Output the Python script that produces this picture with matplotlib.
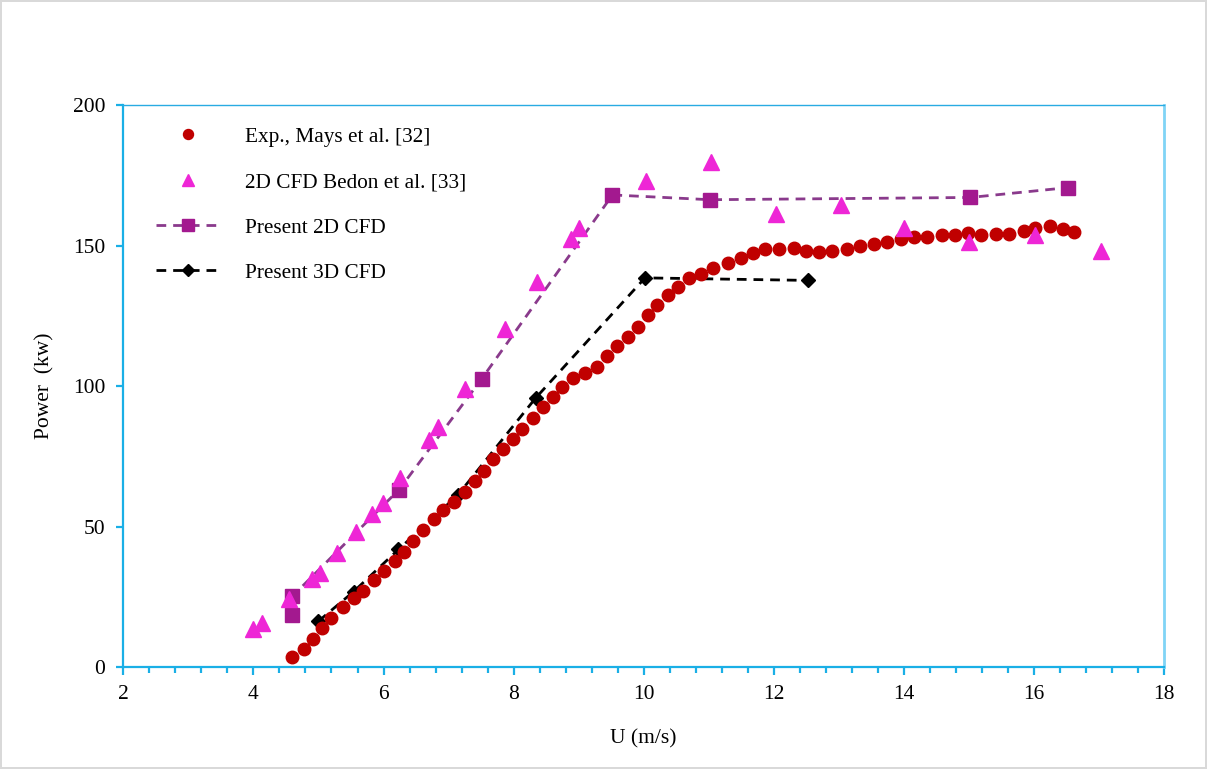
import matplotlib.pyplot as plt
from matplotlib.ticker import MultipleLocator, AutoMinorLocator

plt.rcParams['font.family'] = ['Liberation Serif', 'DejaVu Serif']

# Exp., Mays et al. [32]
exp_u = [4.60, 4.78, 4.91, 5.05, 5.20, 5.37, 5.54, 5.68, 5.86, 6.01, 6.17, 6.31, 6.45,
         6.60, 6.77, 6.91, 7.09, 7.26, 7.41, 7.55, 7.69, 7.84, 7.99, 8.13, 8.30, 8.45,
         8.60, 8.74, 8.92, 9.10, 9.28, 9.44, 9.59, 9.76, 9.91, 10.06, 10.21, 10.37,
         10.53, 10.70, 10.88, 11.06, 11.29, 11.49, 11.68, 11.86, 12.08, 12.31, 12.50,
         12.70, 12.90, 13.12, 13.32, 13.54, 13.74, 13.95, 14.15, 14.36, 14.59, 14.78,
         14.98, 15.19, 15.41, 15.61, 15.84, 16.02, 16.24, 16.44, 16.62]
exp_p = [3.8, 6.6, 10.2, 14.0, 17.5, 21.4, 24.6, 27.2, 30.9, 34.2, 37.9, 41.0, 44.9,
         48.7, 52.8, 56.0, 58.9, 62.5, 66.2, 69.9, 73.9, 77.7, 81.2, 84.9, 88.7, 92.5,
         96.2, 99.7, 102.8, 104.7, 106.8, 110.6, 114.1, 117.6, 121.2, 125.4, 128.8, 132.3,
         135.2, 138.3, 140.0, 142.0, 143.8, 145.5, 147.3, 148.7, 148.7, 149.1, 148.2,
         147.8, 148.2, 148.7, 149.7, 150.6, 151.4, 152.3, 153.1, 153.1, 153.8, 153.8,
         154.5, 153.8, 154.2, 154.2, 155.2, 156.3, 157.0, 156.0, 154.9]

# 2D CFD Bedon et al. [33]
bedon_u = [4.0, 4.13, 4.55, 4.9, 5.03, 5.29, 5.57, 5.83, 5.99, 6.25, 6.7, 6.84, 7.25,
           7.87, 8.36, 8.88, 9.01, 10.03, 11.03, 12.03, 13.03, 14.0, 15.0, 16.02, 17.03]
bedon_p = [13.5, 15.9, 24.4, 31.3, 33.4, 40.7, 48.1, 54.4, 58.5, 67.4, 81.0, 85.5, 98.8,
           120.4, 136.9, 152.3, 156.2, 172.8, 179.6, 161.3, 164.5, 156.2, 151.4, 153.8, 148.2]

# Present 2D CFD
p2d_u = [4.6, 4.6, 6.24, 7.51, 9.52, 11.02, 15.02, 16.52]
p2d_p = [18.6, 25.3, 63.2, 102.6, 168.0, 166.3, 167.1, 170.6]

# Present 3D CFD
p3d_u = [5.0, 5.54, 6.23, 7.14, 8.34, 10.02, 12.53]
p3d_p = [16.4, 26.9, 41.9, 61.2, 95.8, 138.5, 137.6]

fig = plt.figure(figsize=(12.07, 7.69), dpi=100, edgecolor='#d9d9d9', linewidth=1.5)
ax = fig.add_axes([0.1022, 0.1323, 0.8622, 0.7312])

l2d, = ax.plot(p2d_u, p2d_p, color='#8A3A8C', lw=2, dashes=[3.5, 2.5],
               marker='s', ms=10.5, mfc='#A3198F', mec='#A3198F', zorder=2,
               label='Present 2D CFD')
l3d, = ax.plot(p3d_u, p3d_p, color='black', lw=2, dashes=[3.5, 2.5],
               marker='D', ms=7.5, mfc='black', mec='black', zorder=3,
               label='Present 3D CFD')
lexp, = ax.plot(exp_u, exp_p, ls='none', marker='o', ms=9, color='#C00000',
                zorder=4, label='Exp., Mays et al. [32]')
lbed, = ax.plot(bedon_u, bedon_p, ls='none', marker='^', ms=11, color='#EE26D6',
                zorder=5, label='2D CFD Bedon et al. [33]')

ax.set_xlim(2, 18)
ax.set_ylim(0, 200)
ax.xaxis.set_major_locator(MultipleLocator(2))
ax.xaxis.set_minor_locator(AutoMinorLocator(5))
ax.yaxis.set_major_locator(MultipleLocator(50))

blue = '#1AAFE6'
for s in ['left', 'bottom']:
    ax.spines[s].set_color(blue)
    ax.spines[s].set_linewidth(1.6)
ax.spines['top'].set_color('#29ABE2')
ax.spines['top'].set_linewidth(1.0)
ax.spines['right'].set_color('#80D4F6')
ax.spines['right'].set_linewidth(2.0)

ax.tick_params(axis='x', which='major', direction='out', length=6, width=1.6,
               color=blue, labelsize=15.5, pad=7)
ax.tick_params(axis='x', which='minor', direction='out', length=4, width=1.6, color=blue)
ax.tick_params(axis='y', which='major', direction='out', length=5, width=1.6,
               color=blue, labelsize=15.5, pad=8)
ax.tick_params(top=False, right=False)

ax.set_xlabel('U (m/s)', fontsize=15.5)
ax.set_ylabel('Power  (kw)', fontsize=15.5)
ax.xaxis.set_label_coords(0.5, -0.111)
ax.yaxis.set_label_coords(-0.0666, 0.5)

ax.legend(handles=[lexp, lbed, l2d, l3d], loc='upper left', frameon=False,
          fontsize=15.3, bbox_to_anchor=(0.013, 0.995), handlelength=3.0,
          labelspacing=1.2, handletextpad=1.2, markerscale=0.8)

fig.savefig('out.png', dpi=100)
